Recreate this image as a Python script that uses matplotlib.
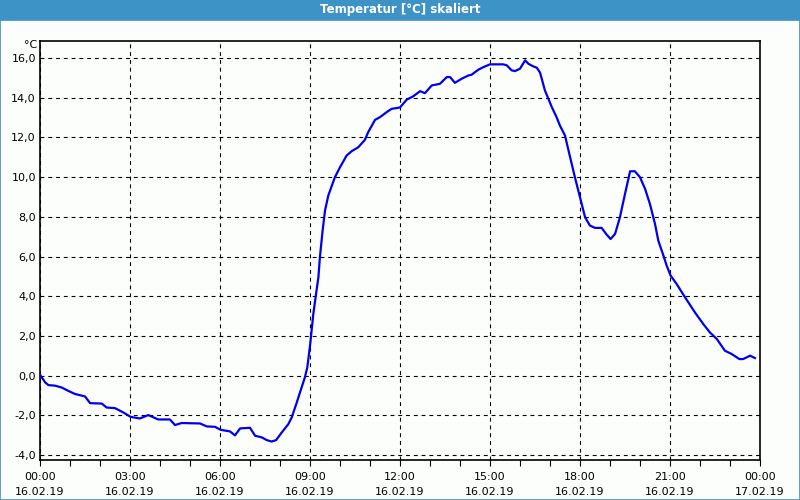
import matplotlib
matplotlib.use("Agg")
import matplotlib.pyplot as plt
from matplotlib.patches import Rectangle

# temperature trace, 16.02.19 00:00 .. 24:00 (hours)
hours = [0, 0.17, 0.28, 0.5, 0.72, 0.94, 1.17, 1.5, 1.67, 2.06, 2.22, 2.5, 2.78,
         3.02, 3.33, 3.61, 3.94, 4.33, 4.5, 4.72, 5.33, 5.56, 5.83, 6.02, 6.33,
         6.5, 6.67, 7.0, 7.17, 7.39, 7.56, 7.72, 7.87, 8.06, 8.28, 8.39, 8.56,
         8.72, 8.83, 8.91, 9.0, 9.11, 9.2, 9.28, 9.33, 9.42, 9.5, 9.61, 9.67,
         9.83, 10.0, 10.22, 10.39, 10.61, 10.83, 10.94, 11.17, 11.33, 11.56,
         11.72, 12.0, 12.22, 12.44, 12.67, 12.83, 13.06, 13.33, 13.56, 13.67,
         13.83, 14.06, 14.28, 14.39, 14.61, 14.78, 15.0, 15.44, 15.56, 15.72,
         15.83, 16.0, 16.17, 16.28, 16.44, 16.56, 16.67, 16.83, 17.06, 17.22,
         17.33, 17.5, 17.67, 17.83, 18.0, 18.17, 18.33, 18.5, 18.72, 18.89,
         19.02, 19.17, 19.33, 19.5, 19.67, 19.83, 20.0, 20.17, 20.33, 20.5,
         20.61, 20.78, 20.89, 21.02, 21.22, 21.5, 21.83, 22.11, 22.33, 22.56,
         22.83, 23.06, 23.31, 23.44, 23.67, 23.83]
temps = [0.05, -0.33, -0.47, -0.5, -0.59, -0.76, -0.92, -1.04, -1.38, -1.4, -1.6,
         -1.63, -1.85, -2.07, -2.15, -1.98, -2.2, -2.2, -2.48, -2.38, -2.4, -2.55,
         -2.57, -2.72, -2.8, -3.0, -2.65, -2.62, -3.02, -3.1, -3.24, -3.31, -3.24,
         -2.85, -2.43, -2.1, -1.34, -0.59, -0.08, 0.42, 1.5, 3.1, 4.1, 4.95, 5.96,
         7.3, 8.31, 9.07, 9.32, 9.99, 10.49, 11.08, 11.3, 11.5, 11.87, 12.26,
         12.88, 13.01, 13.27, 13.43, 13.5, 13.89, 14.06, 14.32, 14.22, 14.61,
         14.69, 15.03, 15.03, 14.74, 14.95, 15.11, 15.15, 15.4, 15.53, 15.67,
         15.67, 15.62, 15.37, 15.33, 15.45, 15.87, 15.7, 15.57, 15.5, 15.25,
         14.36, 13.52, 13.01, 12.59, 12.09, 11.0, 9.99, 8.98, 7.97, 7.56, 7.44,
         7.44, 7.1, 6.88, 7.14, 7.97, 9.15, 10.29, 10.29, 9.99, 9.4, 8.65, 7.64,
         6.8, 6.05, 5.54, 5.04, 4.62, 3.95, 3.19, 2.6, 2.18, 1.85, 1.26, 1.09,
         0.84, 0.84, 1.01, 0.89]

xtick_hours = [0, 3, 6, 9, 12, 15, 18, 21, 24]
xtick_labels = ["00:00\n16.02.19", "03:00\n16.02.19", "06:00\n16.02.19",
                "09:00\n16.02.19", "12:00\n16.02.19", "15:00\n16.02.19",
                "18:00\n16.02.19", "21:00\n16.02.19", "00:00\n17.02.19"]
ytick_vals = [-4, -2, 0, 2, 4, 6, 8, 10, 12, 14, 16]

title = "Temperatur [°C] skaliert"
bar_blue = "#3d93c5"
bg = "#fcfefc"

fig = plt.figure(figsize=(8, 5), dpi=100, facecolor=bg)

# window title bar and thin frame
fig.patches.append(Rectangle((0, 0.96), 1, 0.04, transform=fig.transFigure,
                             facecolor=bar_blue, edgecolor="none", zorder=0))
fig.patches.append(Rectangle((0.0006, 0.001), 0.9988, 0.96, transform=fig.transFigure,
                             facecolor="none", edgecolor=bar_blue, lw=1.2, zorder=0))
fig.text(0.5, 0.981, title, color="white", fontsize=8.5, fontweight="bold",
         ha="center", va="center")

ax = fig.add_axes([0.05, 0.08, 0.90, 0.839])
ax.set_facecolor(bg)
ax.plot(hours, temps, color="#0000ee", lw=1.6, zorder=3)

ax.set_xlim(0, 24)
ax.set_ylim(-4.24, 16.87)

ax.set_xticks(xtick_hours)
ax.set_xticklabels(xtick_labels, fontsize=8, linespacing=1.55)
ax.set_xticks(range(25), minor=True)
ax.tick_params(axis="x", which="both", direction="out", length=4, width=0.8,
               pad=5, color="black")

ax.set_yticks(ytick_vals)
ax.set_yticklabels([f"{v:.1f}".replace(".", ",") for v in ytick_vals], fontsize=8)
ax.tick_params(axis="y", length=0, pad=3)

ax.grid(True, which="major", color="black", lw=0.8, linestyle=(0, (3.5, 3.5)))
for s in ax.spines.values():
    s.set_color("black")
    s.set_linewidth(1.2)

fig.text(0.047, 0.91, "°C", fontsize=8, ha="right", va="center")

fig.savefig("out.png", dpi=100, facecolor=bg)
